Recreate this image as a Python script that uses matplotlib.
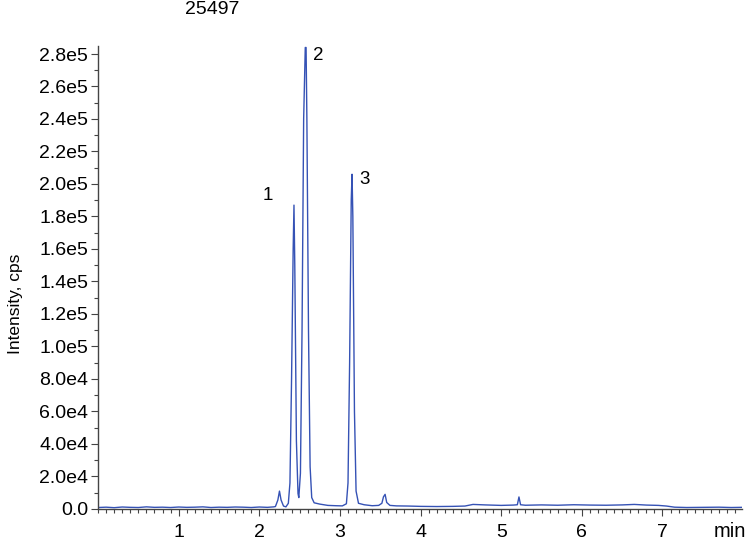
import matplotlib
matplotlib.use("Agg")
import matplotlib.pyplot as plt
from matplotlib.ticker import MultipleLocator, FixedLocator

# chromatogram (time in min, intensity in cps)
time_min = [0.00, 0.10, 0.20, 0.30, 0.40, 0.50, 0.60, 0.70, 0.80, 0.90,
            1.00, 1.10, 1.20, 1.30, 1.40, 1.50, 1.60, 1.70, 1.80, 1.90,
            2.00, 2.10, 2.18, 2.20, 2.23, 2.25, 2.27, 2.30, 2.33, 2.36,
            2.38, 2.40, 2.42, 2.43, 2.44, 2.46, 2.48, 2.49, 2.51, 2.53,
            2.55, 2.57, 2.58, 2.59, 2.61, 2.63, 2.65, 2.68, 2.75, 2.85,
            2.95, 3.03, 3.08, 3.10, 3.12, 3.14, 3.15, 3.16, 3.18, 3.20,
            3.23, 3.30, 3.40, 3.48, 3.52, 3.54, 3.56, 3.58, 3.62, 3.70,
            3.85, 4.00, 4.20, 4.40, 4.55, 4.65, 4.80, 5.00, 5.15, 5.20,
            5.22, 5.24, 5.30, 5.50, 5.70, 5.90, 6.10, 6.30, 6.50, 6.65,
            6.80, 6.95, 7.05, 7.15, 7.30, 7.50, 7.70, 7.85, 7.98]
intensity = [900, 1100, 800, 1200, 1000, 900, 1300, 1000, 1100, 900,
             1200, 1000, 1100, 1300, 900, 1100, 1000, 1200, 1100, 900,
             1200, 1000, 1300, 1500, 5500, 11000, 5500, 1800, 1300, 3500,
             16000, 80000, 160000, 187000, 150000, 42000, 9500, 7000, 22000, 110000,
             240000, 284000, 284000, 240000, 110000, 26000, 7000, 3800, 3000, 2200,
             2000, 1900, 3200, 16000, 90000, 190000, 206000, 180000, 60000, 11000,
             3500, 2600, 2000, 2200, 3500, 7500, 9000, 4000, 2200, 1900,
             1800, 1600, 1500, 1600, 1800, 2800, 2500, 2200, 2400, 2600,
             7400, 2600, 2300, 2500, 2300, 2600, 2400, 2300, 2500, 2800,
             2400, 2200, 1800, 1100, 900, 1000, 1100, 900, 1000]

peak_labels = ["1", "2", "3"]
peak_label_x = [2.10, 2.73, 3.31]
peak_label_y = [193000, 279000, 203000]

y_ticks = [0, 2e4, 4e4, 6e4, 8e4, 1e5, 1.2e5, 1.4e5, 1.6e5, 1.8e5,
           2e5, 2.2e5, 2.4e5, 2.6e5, 2.8e5]
y_tick_labels = ["0.0", "2.0e4", "4.0e4", "6.0e4", "8.0e4", "1.0e5", "1.2e5",
                 "1.4e5", "1.6e5", "1.8e5", "2.0e5", "2.2e5", "2.4e5",
                 "2.6e5", "2.8e5"]
x_ticks = [1, 2, 3, 4, 5, 6, 7]

plt.rcParams['font.family'] = ['Liberation Sans', 'DejaVu Sans']

fig = plt.figure(figsize=(7.5, 5.41), dpi=100)
ax = fig.add_axes([0.1307, 0.0592, 0.858, 0.856])

ax.plot(time_min, intensity, color='#3552b5', linewidth=1.0)

for lab, lx, ly in zip(peak_labels, peak_label_x, peak_label_y):
    ax.text(lx, ly, lab, fontsize=13.5, ha='center', va='center')

ax.set_xlim(0, 7.98)
ax.set_ylim(0, 2.85e5)

ax.yaxis.set_major_locator(FixedLocator(y_ticks))
ax.set_yticklabels(y_tick_labels)
ax.yaxis.set_minor_locator(MultipleLocator(1e4))
ax.xaxis.set_major_locator(FixedLocator(x_ticks))
ax.xaxis.set_minor_locator(MultipleLocator(0.1))

ax.tick_params(axis='both', which='major', labelsize=14, color='#444444',
               length=5, width=0.8, pad=2)
ax.tick_params(axis='both', which='minor', color='#444444', length=3, width=0.8)
ax.tick_params(axis='x', which='major', pad=6)

for side in ['top', 'right']:
    ax.spines[side].set_visible(False)
for side in ['left', 'bottom']:
    ax.spines[side].set_color('#444444')
    ax.spines[side].set_linewidth(1.0)

ax.set_ylabel('Intensity, cps', fontsize=12.5)
ax.yaxis.set_label_coords(-0.117, 0.443)
fig.text(0.283, 0.983, '25497', fontsize=14, ha='center', va='center')
fig.text(0.995, 0.036, 'min', fontsize=14.5, ha='right', va='top')

fig.savefig('out.png', dpi=100)
